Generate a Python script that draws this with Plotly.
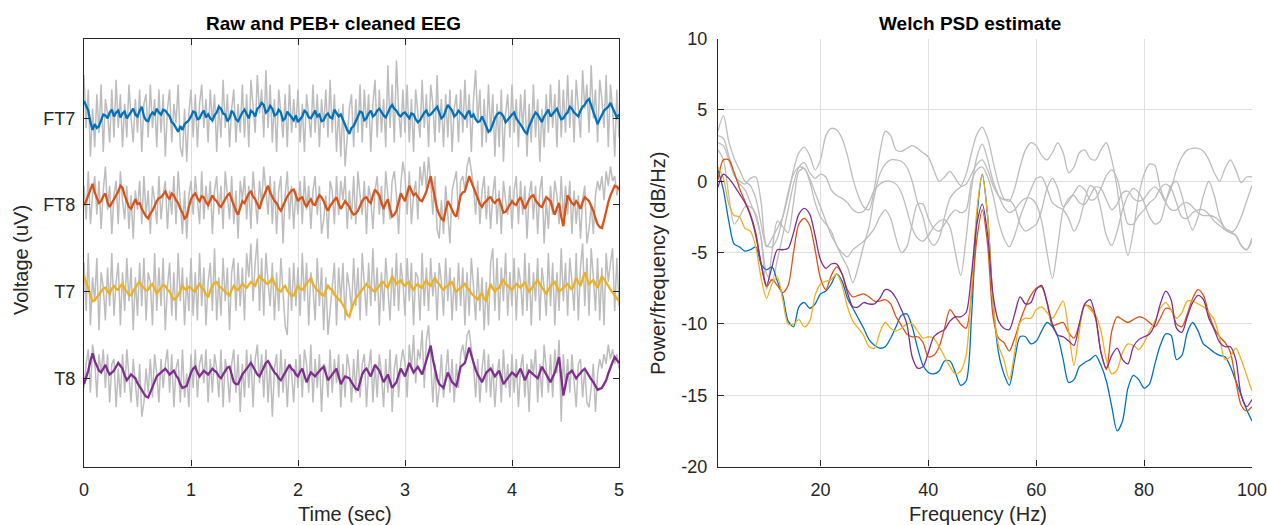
import numpy as np
import plotly.graph_objects as go

# ---------------- data ----------------
channels = ["FT7", "FT8", "T7", "T8"]
channel_offsets = [270, 180, 90, 0]          # uV vertical offsets of the stacked traces
fs = 50.0                                     # samples/sec of the transcribed traces
t = np.arange(251) / fs

clean_FT7 = [18, 12, 8, -4, -12, -6, -10, -8, -2, 4, 3, 0, 6, 9, 2, 6, 8, 1, 5, 7, 0, 3, 6, 10, 4, 2, 8, 12, 2, -2, -3, 3, 6, 4, 10, 6, 4, 9, 8, 5, 2, -4, -6, -10, -14, -8, -12, -6, -4, -2,
             2, 7, 6, -1, 0, 5, 8, 1, 4, 0, -2, 3, 6, 12, 10, 5, 4, -3, 0, 8, 5, -1, -3, 2, 6, 9, 4, 0, 8, 6, 2, 10, 12, 16, 14, 6, 8, 13, 10, 3, 4, 9, 6, -2, 0, 7, 4, 1, -2, 3,
             -4, -1, 2, 8, 6, 1, 0, 4, 8, 2, 4, -3, -2, 3, 5, 1, 0, 9, 6, 2, 4, -2, -6, -12, -16, -10, -8, -3, 2, 7, 6, -2, 0, 5, 8, 2, 4, 8, 10, 6, 3, 1, 6, 11, 14, 10, 8, 4, 2, 5,
             6, 3, 0, 5, 4, -1, -4, -2, 2, 6, 8, 3, 4, 7, 10, 12, 6, 0, 2, 9, 14, 11, 8, 2, 4, 8, 6, 3, 0, 5, 8, 1, 4, -1, -4, -3, 2, -4, -8, -14, -12, -5, 0, 4, 6, 5, 2, -4, -2, 1,
             4, 6, 0, -3, -6, -10, -14, -16, -8, -2, 2, 6, 4, 0, -4, 2, 6, 9, 2, 5, 8, 10, 4, -1, 0, 4, 6, 12, 10, 6, 4, 2, 8, 12, 14, 18, 20, 14, 8, 0, -6, -1, 4, 8, 10, 12, 16, 11, 6, 1,
             4]
clean_FT8 = [0, 4, 10, 16, 22, 13, 8, 2, 4, 9, 12, 3, -2, 2, 6, 11, 14, 20, 18, 10, 4, -2, -4, 2, 6, 1, 2, -4, -8, -12, -14, -9, -6, -1, 4, 7, 8, 11, 14, 9, 6, 12, 10, 5, 2, -4, -8, -14, -12, -2,
             6, 10, 12, 7, 4, 9, 8, 3, 0, 5, 10, 6, 4, 0, -2, 2, 6, 10, 12, 5, 0, -6, -10, -3, 4, 2, 8, 12, 14, 9, 6, 0, -4, 4, 10, 16, 20, 13, 8, 4, 2, -3, -6, -1, 4, 9, 12, 15, 16, 9,
             4, 7, 8, 2, -2, 3, 6, 1, 0, 6, 10, 8, 4, -2, -6, -1, 2, 6, 8, 1, -4, 0, 4, 1, -2, -7, -10, -9, -6, -1, 4, 7, 8, 4, 2, 10, 16, 13, 10, 2, -4, 2, 6, -4, -12, -10, -6, 3, 12, 8,
             4, 12, 20, 15, 10, 12, 8, 5, 4, 9, 14, 22, 30, 18, 6, -4, -10, -14, -16, -6, 4, 0, -6, -10, -12, 0, 10, 13, 14, 22, 30, 24, 18, 11, 6, 1, -2, 2, 4, 7, 8, 4, 2, 5, 6, -2, -8, -7, -4, 0,
             4, 1, 0, 5, 8, 2, -4, 1, 6, 9, 10, 5, 2, -1, -2, 4, 8, 6, 4, -4, -10, -3, 2, -12, -22, -4, 10, 6, 2, 0, 4, 1, -4, 3, 8, 6, 4, -1, -6, -14, -20, -23, -24, -16, -6, 3, 10, 16, 20, 19,
             16]
clean_T7 = [16, 9, 2, -5, -10, -9, -6, -2, 0, 3, 4, 0, -2, 3, 6, 3, 2, 6, 8, 3, 0, -3, -4, 1, 4, 8, 10, 6, 4, 1, 2, 6, 8, 2, -2, 1, 4, 7, 6, 2, 0, -5, -8, -7, -4, 2, 6, 3, 2, 5,
            4, 1, 0, 5, 8, 4, 2, -3, -6, 1, 6, 9, 10, 6, 4, 2, 0, -3, -4, 2, 6, 3, 2, 5, 8, 6, 4, 7, 10, 8, 6, 12, 16, 13, 12, 9, 8, 11, 14, 9, 4, 1, 0, 4, 6, 1, -2, -4, -4, 1,
            6, 3, 2, 5, 8, 12, 14, 8, 4, 1, 0, -3, -4, 2, 6, 3, 2, -3, -6, -8, -10, -14, -18, -24, -26, -18, -12, -7, -4, -1, 2, 6, 8, 5, 4, 1, 0, 3, 6, 9, 10, 6, 4, 11, 16, 12, 8, 10, 12, 8,
            6, 9, 10, 5, 2, 6, 8, 5, 4, 9, 12, 8, 6, 11, 14, 10, 8, 4, 2, 5, 6, 9, 10, 4, 0, 2, 4, 7, 8, 4, 2, -2, -4, -7, -8, -4, -2, -7, -10, 0, 8, 3, 0, 3, 4, 9, 12, 8, 6, 4,
            2, 5, 8, 6, 4, 7, 10, 4, 0, 3, 6, 9, 12, 8, 4, 1, -2, 2, 6, 8, 10, 5, 0, 2, 4, 6, 8, 5, 2, 8, 14, 10, 6, 13, 20, 14, 8, 10, 12, 8, 4, 10, 16, 13, 10, 6, 2, -1, -4, -8,
            -10]
clean_T8 = [-6, 0, 8, 18, 26, 18, 12, 8, 6, 10, 14, 8, 4, 6, 8, 12, 16, 13, 10, 3, -2, 1, 4, 2, 0, -5, -8, -12, -16, -19, -20, -14, -10, -3, 2, 4, 6, 8, 10, 7, 4, 6, 8, 3, 0, -6, -10, -9, -8, -1,
            6, 10, 12, 6, 2, 5, 8, 6, 4, 7, 10, 8, 6, 2, 0, 4, 8, 11, 12, 4, -4, -6, -6, -1, 4, 7, 10, 14, 16, 12, 8, 4, 2, 7, 12, 16, 18, 14, 10, 6, 4, 0, -2, 2, 6, 11, 14, 10, 8, 4,
            2, 7, 10, 3, -4, 1, 6, 4, 2, 5, 8, 10, 12, 5, -2, 1, 4, 8, 10, 2, -6, -2, 2, 1, 0, -4, -8, -11, -12, -4, 4, 8, 10, 6, 2, 8, 14, 11, 8, 2, -4, 0, 4, -3, -10, -7, -4, 3, 10, 6,
            2, 9, 16, 11, 6, 9, 12, 8, 4, 11, 18, 26, 34, 20, 8, 0, -6, -8, -10, -2, 6, 1, -4, -6, -8, 2, 12, 14, 16, 24, 32, 24, 16, 9, 4, 0, -4, 1, 6, 8, 10, 6, 2, 5, 8, 1, -6, -3, 0, 3,
            6, 4, 2, 6, 10, 4, -2, 3, 8, 6, 4, 2, 0, 6, 12, 8, 4, 0, -4, 1, 6, 14, 22, 2, -18, -7, 4, 6, 8, 4, 0, 3, 6, 8, 10, 6, 2, -1, -4, -8, -12, -11, -10, -6, -2, 5, 12, 17, 22, 19,
            16]

raw_FT7 = [45, -10, 30, -40, 10, -30, 25, -15, 35, -35, 20, 5, -25, 30, -20, 40, -10, 25, -30, 15, -20, 35, 0, -25, 20,
           -15, 30, -35, 15, 25, -20, 35, -10, 20, -30, 30, -15, 25, -40, 10, 30, -25, 15, -5, 35, -30, -40, 10, -45, 5,
           30, -20, 25, -30, 15, 35, -10, 20, -25, 30, -5, 25, -35, 15, -20, 40, -10, 25, -30, 10, 30, -25, 15, -15, 35,
           -20, 25, -30, 40, 10, -15, 45, 5, 30, -20, 50, -10, 35, -25, 20, -35, 30, 5, -20, 25, -30, 35, -15, 20, -10,
           30, -25, 15, -35, 25, 5, -20, 35, -15, 25, -30, 20, -10, 30, -20, 40, -15, 25, -35, 10, -40, 15, -50, -20, 10,
           25, -30, 20, -15, 35, -25, 30, -10, 25, -35, 15, 40, -20, 30, -15, 20, -30, 55, -10, 35, -25, 60, 10, -20, 30,
           -15, 35, -25, 20, -35, 30, 5, -20, 40, -10, 25, -30, 35, 15, -25, 45, -15, 20, -30, 25, -20, 30, -35, 10, 25,
           -25, 30, -15, 40, -10, 25, -35, 20, 50, -5, 30, -30, 20, -25, 35, -15, 25, -40, 15, -30, 30, -45, 5, 25, -20,
           35, -15, 20, -30, 25, -10, 30, -40, 15, -25, 35, -20, 20, -45, 10, -30, 25, -15, 35, -10, 25, -30, 40, -20, 30,
           -15, 45, -10, 30, -25, 40, 5, -20, 50, 10, 35, -15, 55, 0, 30, -25, 40, 20, -10, 45, -30, 35, 10, -40, 30,
           -20]
raw_FT8 = [20, -15, 35, -20, 10, 30, -10, 25, -25, 15, 40, -5, 20, -30, 10, 25, -20, 35, 5, -15, 20, -25, 10, -35, 15,
           -5, 25, -20, 30, -10, 15, -30, 20, 5, -20, 30, -15, 10, 25, -25, 15, -10, 30, -20, 35, 0, -30, 15, -35, 10,
           25, -10, 30, 5, -20, 35, -15, 20, -5, 25, -30, 15, 30, -10, 20, -25, 35, 10, -15, 30, -20, 15, -35, 25, 5,
           30, -15, 20, -25, 35, 10, -20, 25, 0, 40, 15, -10, 30, -20, 25, -30, 15, 30, -40, 10, 35, -15, 20, -25, 15,
           -10, 25, -20, 30, -5, 20, -25, 15, 30, -10, 20, -30, -15, 10, -35, 25, 15, -20, 30, -10, 25, 5, 30, -25, 15,
           -15, 30, -20, 35, 10, -10, 25, -30, 20, 5, -25, 15, 30, -10, 20, -20, 35, 5, -15, 25, 35, 10, -30, 20, 45,
           30, -10, 35, -20, 10, 25, -15, 40, 20, 45, 15, 50, 25, -10, 30, -25, -35, 5, -30, 20, -10, -40, 15, 25, 35,
           -15, 25, 30, 15, 40, 50, 35, 20, -10, 25, -20, 15, 30, -15, 20, -25, 10, 30, -20, 15, -30, 25, 5, -10, 20,
           -25, 15, 30, -20, 25, -10, 20, -35, 10, 25, -15, 20, -30, 15, 30, -40, 5, -25, 20, -10, 25, 10, -20, 30, -15,
           20, -10, 25, -30, 15, -20, 10, -35, 5, 20, -40, -25, 0, -30, 10, 25, 15, 30, 5, 35, 20, 40, 25, 30, 10,
           20]
raw_T7 = [30, -20, 40, -35, 15, -10, 35, -40, 20, 5, -30, 25, -15, 40, -25, 10, 30, -35, 20, -20, 35, -10, 25, -40, 15,
          -25, 30, -15, 35, -30, 20, 10, -35, 40, -20, 25, -15, 35, -40, 5, 30, -25, 20, -30, 40, -10, 25, -35, 15, -20,
          35, -25, 20, -30, 40, -15, 25, -35, 10, 30, -20, 45, -30, 15, -25, 35, -10, 25, -40, 20, 35, -20, 30, -15, 25,
          -30, 40, 15, 50, -10, 30, 55, -20, 35, -25, 40, 10, -15, 30, -30, 20, -20, 35, 5, -35, -45, 25, -20, 30, -15,
          25, -25, 40, -10, 30, -35, 20, 5, -30, 35, -15, 25, -40, 15, -45, -20, 10, 30, -35, 25, -10, 30, -30, 20, 5,
          -20, 35, -15, 25, -30, 40, 10, -25, 30, -15, 45, -10, 25, -35, 20, -20, 35, 5, -30, 25, -15, 40, -20, 30, 10,
          -25, 35, -10, 30, -35, 20, 15, -30, 40, -15, 25, -20, 35, -5, 20, -30, 30, 10, -25, 35, -10, 25, -30, 15, -20,
          30, -15, 25, -35, 20, -25, 35, 5, -30, 25, -20, 15, -40, 10, -35, 30, 45, -20, 35, -30, 25, -10, 40, -25, 20,
          -15, 35, -30, 25, 10, -25, 40, -20, 30, -35, 20, -10, 35, -30, 25, 5, -25, 40, -15, 30, -35, 20, -20, 45, -10,
          30, -25, 35, 10, -20, 40, -30, 25, 50, -15, 35, -25, 45, 15, -20, 35, -30, 25, -35, 40, 10, 30, 45, -20, 35,
          -15]
raw_T8 = [-10, 15, 30, -15, 35, 20, -20, 25, 5, 30, -10, 25, -25, 15, 20, -30, 10, -20, 25, -15, 30, 5, -25, 20, -10,
          -30, 15, -40, -25, 10, -15, 20, -20, 25, 5, -25, 20, -10, 15, 30, -15, 25, -30, 10, 20, -25, 30, -20, 5, -30,
          25, -10, 30, -20, 15, 25, -5, 30, -25, 20, -15, 25, 10, -20, 30, -30, 20, 5, -25, 15, 30, -15, 25, -35, 15,
          -20, 30, -10, 25, -30, 20, 35, -5, 25, -20, 30, -25, 15, -40, 10, 25, -20, 30, -15, 20, -30, 15, 5, -25, 20,
          -10, 25, -20, 30, 15, -15, 35, -25, 20, -10, 25, -35, 15, 10, -20, 30, -15, 20, -5, 25, -30, 15, -20, 25, 10,
          -25, 20, -15, 30, -20, 15, 25, -30, 10, 30, -25, 15, -20, 25, 5, -30, 20, -15, 30, -35, 10, 25, -20, 15, 30,
          15, -20, 35, 10, 45, -5, 30, 20, 50, -10, 40, 55, 20, -25, 15, -30, -10, 25, -20, 10, 30, -15, 20, -25, 15,
          -10, 25, 35, 20, 45, 50, 30, 15, -20, 20, -25, 10, 30, -15, 25, -20, 15, -30, 5, 20, -25, 30, -10, 15, -20,
          25, -15, 20, -30, 10, 25, -20, 15, -35, 20, 5, 30, -25, 15, -20, 35, 10, -15, 25, -20, 30, 5, 40, -45, 25,
          -10, 20, -15, 25, 0, -30, 15, 20, -20, 10, -25, -30, -10, 15, -35, 5, 20, 10, 25, 15, 35, 20, 30, 15, 25,
          10]

freqs = np.arange(1, 101)   # Hz
psd_clean_FT7 = [0.8, -0.6, -2.8, -4.4, -4.6, -4.9, -4.8, -4.6, -5.8, -6.2,
                 -6.0, -7.0, -8.0, -9.8, -10.2, -8.8, -8.5, -8.9, -8.6, -7.9,
                 -7.7, -7.2, -6.5, -7.0, -8.2, -8.9, -9.6, -10.3, -11.1, -11.5,
                 -11.7, -11.6, -11.0, -10.2, -9.4, -9.3, -10.2, -11.7, -12.9, -13.4,
                 -13.5, -13.3, -12.6, -12.6, -13.4, -14.3, -14.0, -9.5, -2.5, 0.5,
                 -2.5, -8.5, -12.0, -13.5, -14.3, -12.5, -10.9, -10.9, -11.4, -11.2,
                 -10.5, -9.9, -10.2, -10.9, -12.5, -14.1, -13.9, -13.0, -12.7, -12.5,
                 -12.2, -12.9, -14.0, -15.8, -17.5, -16.8, -14.5, -13.6, -13.9, -14.5,
                 -14.2, -12.8, -11.5, -10.7, -10.8, -12.5, -12.2, -10.6, -9.9, -10.5,
                 -11.4, -11.7, -12.0, -12.2, -12.3, -13.0, -14.0, -15.0, -16.0, -16.8]
psd_clean_FT8 = [0.1, 1.5, 1.5, 0.6, -0.5, -1.4, -2.3, -3.6, -5.8, -7.4,
                 -6.9, -7.3, -7.8, -7.3, -5.0, -3.0, -2.6, -3.1, -4.8, -6.8,
                 -7.6, -6.6, -6.0, -6.5, -7.6, -8.1, -8.0, -7.9, -8.1, -8.4,
                 -8.4, -8.3, -8.6, -9.5, -10.1, -10.7, -10.9, -10.9, -11.3, -12.3,
                 -12.2, -11.6, -10.3, -9.0, -9.5, -10.0, -10.3, -8.0, -4.0, -2.0,
                 -4.5, -9.5, -11.0, -11.3, -11.9, -11.0, -9.8, -8.8, -8.0, -7.5,
                 -7.4, -8.5, -10.1, -10.0, -9.9, -10.6, -11.0, -10.0, -8.7, -8.8,
                 -9.6, -12.0, -13.2, -10.5, -9.5, -9.7, -9.9, -9.7, -9.5, -9.6,
                 -9.9, -10.2, -9.6, -8.9, -9.0, -10.0, -10.2, -9.3, -8.2, -7.6,
                 -8.0, -9.3, -10.3, -10.9, -11.3, -12.0, -14.0, -15.7, -16.1, -15.8]
psd_clean_T7 = [1.0, 0.2, -1.6, -2.4, -2.5, -3.3, -3.5, -4.6, -6.8, -8.2,
                -7.2, -6.7, -8.3, -10.0, -10.0, -9.7, -10.2, -9.8, -8.0, -7.2,
                -7.0, -6.9, -6.5, -7.3, -8.8, -9.8, -10.3, -10.8, -11.6, -11.7,
                -10.6, -9.9, -10.3, -10.5, -10.3, -10.0, -10.0, -10.5, -11.0, -10.9,
                -11.0, -11.6, -12.3, -13.0, -13.5, -13.3, -12.2, -7.5, -2.0, 0.5,
                -2.5, -8.5, -11.5, -12.5, -13.9, -12.0, -9.9, -9.6, -9.6, -9.0,
                -8.8, -9.2, -9.6, -9.0, -8.4, -10.5, -12.9, -10.5, -8.6, -9.0,
                -9.4, -10.5, -12.5, -13.5, -13.2, -12.0, -11.4, -11.5, -11.8, -11.3,
                -10.5, -9.8, -8.9, -8.5, -9.0, -9.6, -9.2, -8.4, -8.4, -8.6,
                -8.8, -9.2, -9.7, -11.0, -12.5, -12.3, -11.7, -12.5, -13.6, -14.7]
psd_clean_T8 = [-0.4, 0.5, 0.2, -0.3, -0.9, -1.5, -2.4, -3.8, -5.8, -7.3,
                -6.0, -4.8, -4.8, -4.7, -3.6, -2.3, -1.9, -2.3, -3.8, -5.5,
                -6.1, -5.8, -5.8, -6.5, -7.8, -8.8, -8.8, -8.5, -8.6, -8.6,
                -8.2, -7.6, -7.7, -8.2, -9.0, -10.0, -12.3, -13.1, -13.0, -12.0,
                -10.9, -10.6, -10.4, -9.8, -9.5, -9.5, -9.2, -6.5, -3.0, -1.6,
                -3.8, -8.0, -9.8, -10.3, -10.4, -9.3, -8.1, -8.6, -8.5, -7.6,
                -7.3, -8.5, -10.0, -10.8, -10.9, -11.2, -11.5, -10.0, -8.6, -8.3,
                -9.5, -12.0, -13.1, -12.2, -11.7, -12.5, -12.8, -11.6, -11.1, -10.9,
                -10.7, -10.0, -8.6, -7.7, -8.3, -10.3, -10.6, -9.5, -8.5, -8.0,
                -8.3, -9.6, -10.4, -11.3, -11.6, -11.6, -12.5, -15.0, -15.8, -15.3]

psd_raw_A = [3.5, 4.6, 2.8, 1.6, 0.8, 0.0, -0.3, -1.2, -3.0, -4.6,
             -4.0, -3.3, -2.5, -1.0, 0.8, 2.0, 2.4, 1.8, 0.8, 1.5,
             3.2, 3.7, 3.6, 3.0, 1.8, 0.2, -1.0, -1.8, -2.0, -0.5,
             2.0, 3.5, 3.2, 2.2, 2.1, 2.3, 2.5, 2.3, 2.0, 1.7,
             0.8, 0.0, 0.3, 0.7, 0.2, -0.3, 0.5, 2.0, 3.3, 3.8,
             3.0, 1.4, -0.2, -1.2, -1.4, -0.5, 1.0, 2.2, 2.7, 2.5,
             1.8, 1.5, 2.0, 2.7, 2.0, 0.6, 1.0, 2.0, 2.2, 1.6,
             1.5, 2.2, 2.7, 1.5, -0.5, -3.5, -5.2, -3.5, -1.0, 0.5,
             1.2, 1.1, -0.5, -1.3, -0.5, 0.8, 1.7, 2.2, 2.3, 2.3,
             2.1, 1.5, 0.6, 0.0, 0.9, 1.5, 0.8, -0.1, 0.3, 0.3]
psd_raw_B = [3.2, 3.0, 1.8, 0.6, -0.2, -0.6, -1.5, -2.5, -4.0, -6.5,
             -7.0, -5.5, -3.8, -2.0, -0.2, 1.0, 1.3, 0.6, 0.2, 0.5,
             0.3, -0.6, -1.0, -1.2, -1.5, -2.0, -2.2, -2.1, -1.5, -0.6,
             -0.2, 0.0, 0.0, -0.2, -0.8, -2.0, -3.3, -4.0, -4.2, -3.8,
             -3.2, -2.8, -2.7, -3.2, -5.0, -6.6, -4.0, -0.5, 1.7, 2.6,
             1.5, 0.0, -1.0, -1.8, -2.2, -2.0, -1.5, -1.2, -1.2, -1.6,
             -2.8, -5.0, -6.8, -4.5, -2.0, -1.2, -1.0, -1.5, -1.6, -1.0,
             -0.4, -0.5, -1.3, -2.0, -1.6, -0.8, -0.7, -1.2, -1.4, -1.2,
             -0.7, -0.4, -0.8, -1.5, -2.0, -2.0, -1.6, -1.5, -1.8, -2.2,
             -2.4, -2.4, -2.5, -2.8, -3.3, -3.6, -3.8, -4.5, -4.8, -4.0]
psd_raw_C = [2.7, 2.5, 1.5, 0.4, 0.0, -0.2, 0.2, 0.3, -1.5, -4.5,
             -4.6, -4.0, -2.5, -0.8, 0.5, 1.0, 0.9, 0.2, -0.8, -1.8,
             -2.8, -3.8, -4.5, -5.3, -6.0, -7.1, -6.0, -4.5, -3.2, -1.0,
             0.5, 1.2, 1.5, 1.5, 1.4, 1.0, 0.0, -1.5, -2.5, -4.0,
             -4.5, -4.0, -2.5, -1.2, -0.7, -0.4, -0.2, 0.5, 1.2, 1.5,
             0.8, -0.3, -1.0, -1.3, -1.3, -1.8, -3.0, -3.5, -3.3, -3.0,
             -2.0, -0.5, 0.2, -0.5, -1.8, -1.4, -0.8, -0.3, -0.6, -1.3,
             -1.2, -0.5, 0.4, 0.8, 0.2, -1.5, -3.0, -3.0, -2.4, -2.0,
             -1.5, -1.2, -0.5, -0.2, -0.5, -1.5, -2.5, -2.6, -2.2, -2.0,
             -2.0, -2.3, -2.8, -3.1, -3.4, -3.6, -3.3, -2.5, -1.4, -0.3]
psd_raw_D = [2.2, 1.5, -1.0, -3.0, -2.5, -1.8, -1.8, -2.3, -4.0, -7.6,
             -5.0, -2.8, -3.2, -3.6, -1.5, 0.7, 0.9, 0.0, -1.5, -2.5,
             -3.0, -3.5, -4.5, -5.0, -5.3, -4.8, -4.5, -4.2, -3.8, -3.3,
             -2.5, -2.0, -2.6, -4.0, -5.0, -4.6, -3.0, -1.6, -1.6, -2.6,
             -3.3, -3.5, -3.0, -2.4, -2.0, -2.2, -2.0, 0.0, 0.8, 1.0,
             0.3, -1.0, -2.8, -4.0, -4.6, -3.8, -2.5, -1.5, -0.6, 0.2,
             0.3, -0.5, -1.5, -1.8, -2.0, -2.6, -3.5, -2.8, -1.3, -0.3,
             -0.6, -2.0, -3.8, -4.5, -3.5, -2.0, -1.0, -0.5, -0.8, -1.5,
             -2.5, -3.0, -2.8, -1.5, -0.3, 0.0, -1.0, -2.5, -3.4, -2.5,
             -1.0, 0.0, -1.0, -2.5, -3.3, -3.5, -3.8, -4.5, -4.8, -4.2]

clean_eeg = [clean_FT7, clean_FT8, clean_T7, clean_T8]
raw_eeg = [raw_FT7, raw_FT8, raw_T7, raw_T8]
psd_clean = [psd_clean_FT7, psd_clean_FT8, psd_clean_T7, psd_clean_T8]
psd_raw = [psd_raw_A, psd_raw_B, psd_raw_C, psd_raw_D]

# ---------------- style ----------------
colors = ["#0072BD", "#D95319", "#EDB120", "#7E2F8E"]
gray = "#BDBDBD"
axis_col = "#262626"
grid_col = "#DFDFDF"
FONT = "Liberation Sans, Arial, sans-serif"
W, H = 1267, 525

fig = go.Figure()

# left panel: raw (gray) then cleaned (colour)
for raw, off in zip(raw_eeg, channel_offsets):
    fig.add_trace(go.Scatter(x=t, y=np.array(raw) + off, mode="lines",
                             line=dict(color=gray, width=1.5), xaxis="x", yaxis="y",
                             showlegend=False, hoverinfo="skip"))
for cl, off, c in zip(clean_eeg, channel_offsets, colors):
    fig.add_trace(go.Scatter(x=t, y=np.array(cl) + off, mode="lines",
                             line=dict(color=c, width=2.3), xaxis="x", yaxis="y",
                             showlegend=False, hoverinfo="skip"))

# right panel: PSD
for p in psd_raw:
    fig.add_trace(go.Scatter(x=freqs, y=p, mode="lines",
                             line=dict(color=gray, width=1.3, shape="spline", smoothing=0.8),
                             xaxis="x2", yaxis="y2", showlegend=False, hoverinfo="skip"))
for p, c in zip(psd_clean, colors):
    fig.add_trace(go.Scatter(x=freqs, y=p, mode="lines",
                             line=dict(color=c, width=1.3, shape="spline", smoothing=0.8),
                             xaxis="x2", yaxis="y2", showlegend=False, hoverinfo="skip"))

ydom = [1 - 466.6 / H, 1 - 38.6 / H]
tickfont = dict(family=FONT, size=18, color=axis_col)
common = dict(showline=True, linecolor=axis_col, linewidth=1.3, ticks="inside",
              ticklen=6, tickwidth=1, tickcolor=axis_col, tickfont=tickfont,
              zeroline=False, automargin=False, ticklabeloverflow="allow")

fig.update_layout(
    width=W, height=H,
    margin=dict(l=0, r=0, t=0, b=0),
    paper_bgcolor="white", plot_bgcolor="white",
    xaxis=dict(domain=[84 / W, 619 / W], range=[0, 5], tickvals=[0, 1, 2, 3, 4, 5],
               showgrid=True, gridcolor=grid_col, gridwidth=1, mirror="ticks",
               anchor="y", ticklabelstandoff=7, **common),
    yaxis=dict(domain=ydom, range=[-91.7, 352.8], tickvals=channel_offsets,
               ticktext=channels, showgrid=False, mirror="ticks", anchor="x",
               ticklabelstandoff=4, **common),
    xaxis2=dict(domain=[718 / W, 1252 / W], range=[1, 100], tickvals=[20, 40, 60, 80, 100],
                showgrid=True, gridcolor=grid_col, gridwidth=1, mirror=False,
                anchor="y2", ticklabelstandoff=7, **common),
    yaxis2=dict(domain=ydom, range=[-20, 10], tickvals=[-20, -15, -10, -5, 0, 5, 10],
                ticktext=["-20", "-15", "-10", "-5", "0", "5", "10"],
                showgrid=True, gridcolor=grid_col, gridwidth=1, mirror=False,
                anchor="x2", ticklabelstandoff=6, **common),
)

def px_x(v):
    return v / W

def px_y(v):
    return 1 - v / H

ann = [
    dict(text="<b>Raw and PEB+ cleaned EEG</b>", x=px_x(333), y=px_y(23), size=19, angle=0),
    dict(text="<b>Welch PSD estimate</b>", x=px_x(970), y=px_y(23), size=19, angle=0),
    dict(text="Time (sec)", x=px_x(345), y=px_y(514), size=20, angle=0),
    dict(text="Frequency (Hz)", x=px_x(978), y=px_y(514), size=20, angle=0),
    dict(text="Voltage (uV)", x=px_x(21), y=px_y(260), size=20, angle=-90),
    dict(text="Power/frequency (dB/Hz)", x=px_x(658), y=px_y(264), size=20, angle=-90),
]
for a in ann:
    fig.add_annotation(text=a["text"], x=a["x"], y=a["y"], xref="paper", yref="paper",
                       xanchor="center", yanchor="middle", showarrow=False, textangle=a["angle"],
                       font=dict(family=FONT, size=a["size"], color="#000000" if "<b>" in a["text"] else axis_col))

fig.write_html("out.html")
